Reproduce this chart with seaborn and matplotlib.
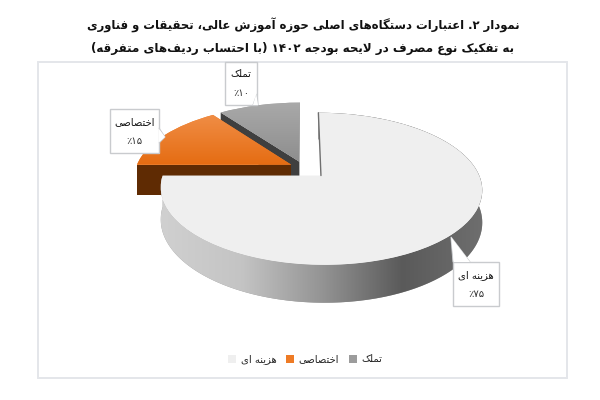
import numpy as np
import matplotlib
matplotlib.use('Agg')
import matplotlib.pyplot as plt
import seaborn as sns
from matplotlib.patches import PathPatch, Patch, Rectangle
from matplotlib.path import Path

title_lines = ['نمودار ۲. اعتبارات دستگاه\u200cهای اصلی حوزه آموزش عالی، تحقیقات و فناوری',
               'به تفکیک نوع مصرف در لایحه بودجه ۱۴۰۲ (با احتساب ردیف\u200cهای متفرقه)']
categories = ['هزینه ای', 'اختصاصی', 'تملک']
values = [75, 15, 10]

# (isolated, final, initial, medial) presentation forms, matplotlib does no shaping
FORMS = {'ا': 'ﺍﺎ', 'آ': 'ﺁﺂ', 'د': 'ﺩﺪ', 'ذ': 'ﺫﺬ', 'ر': 'ﺭﺮ', 'ز': 'ﺯﺰ', 'و': 'ﻭﻮ',
         'ب': 'ﺏﺐﺑﺒ', 'پ': 'ﭖﭗﭘﭙ', 'ت': 'ﺕﺖﺗﺘ', 'ج': 'ﺝﺞﺟﺠ', 'چ': 'ﭺﭻﭼﭽ', 'ح': 'ﺡﺢﺣﺤ',
         'خ': 'ﺥﺦﺧﺨ', 'س': 'ﺱﺲﺳﺴ', 'ش': 'ﺵﺶﺷﺸ', 'ص': 'ﺹﺺﺻﺼ', 'ع': 'ﻉﻊﻋﻌ', 'ف': 'ﻑﻒﻓﻔ',
         'ق': 'ﻕﻖﻗﻘ', 'ک': 'ﮎﮏﮐﮑ', 'گ': 'ﮒﮓﮔﮕ', 'ل': 'ﻝﻞﻟﻠ', 'م': 'ﻡﻢﻣﻤ', 'ن': 'ﻥﻦﻧﻨ',
         'ه': 'ﻩﻪﻫﻬ', 'ی': 'ﯼﯽﯾﯿ'}
PAIRS = {'(': ')', ')': '('}


def shape(text):
    text = text.replace('لا', '\ufefb')
    out = []
    for i, ch in enumerate(text):
        if ch == '\ufefb':
            prev = text[i - 1] if i else ''
            out.append('\ufefc' if len(FORMS.get(prev, '')) == 4 else ch)
            continue
        if ch not in FORMS:
            out.append(ch)
            continue
        prev = text[i - 1] if i else ''
        nxt = text[i + 1] if i + 1 < len(text) else ''
        before = len(FORMS.get(prev, '')) == 4
        after = len(FORMS[ch]) == 4 and (nxt in FORMS or nxt == '\ufefb')
        idx = {(0, 0): 0, (1, 0): 1, (0, 1): 2, (1, 1): 3}[(int(before), int(after))]
        out.append(FORMS[ch][idx])
    # visual order: everything reversed except runs of digits
    res, i = [], 0
    for ch in out:
        if ch == '\u200c':
            continue
        if ch in '۰۱۲۳۴۵۶۷۸۹' and i and res[0][-1] in '۰۱۲۳۴۵۶۷۸۹':
            res[0] += ch
        else:
            res.insert(0, PAIRS.get(ch, ch))
        i += 1
    return ''.join(res)


def percent(v):
    return shape(str(v).translate(str.maketrans('0123456789', '۰۱۲۳۴۵۶۷۸۹')) + '٪')


sns.set_theme(style='white')
plt.rcParams['font.family'] = ['DejaVu Sans']

top_colors = ['#EFEFEF', '#EE7B25', '#9C9C9C']
wall_colors = [None, '#5F2B03', '#3F3F3F']
face_grads = [None, ['#F08D45', '#E56C12'], ['#A9A9A9', '#8E8E8E']]
side_grad = sns.blend_palette(['#D0D0D0', '#C4C4C4', '#949494', '#5A5A5A', '#6E6E6E'], as_cmap=True)

# projection of the pie disk to the picture (tilted with some perspective)
X0, Y0, A, B, K, DEPTH = 303.6, 167.6, 155.3, 71.0, 0.171, 30.7


def project(x, y, drop=0.0):
    s = 1 / (1 + K * y)
    return np.column_stack([X0 + A * x * s, Y0 - B * y * s + drop * s])


fig = plt.figure(figsize=(6, 4), dpi=100)
ax = fig.add_axes([0, 0, 1, 1])
wedges, _ = ax.pie(values, explode=[0.155, 0.09, 0.089], startangle=90, counterclock=False, radius=1)
disks = []
for w in wedges:
    disks.append((w.get_path(), w.center, w.theta1, w.theta2))
    w.remove()
ax.set_aspect('auto')
ax.set_xlim(0, 600)
ax.set_ylim(400, 0)
ax.axis('off')

ax.add_patch(Rectangle((38, 62), 529, 316, fc='white', ec='#E4E6EA', lw=1.4, zorder=0))


def rim(center, radius, theta):
    t = np.radians(theta)
    return center[0] + radius * np.cos(t), center[1] + radius * np.sin(t)


def draw_wall(i, theta, zorder):
    _, c, _, _ = disks[i]
    x, y = rim(c, 1, theta)
    xs, ys = np.array([c[0], x]), np.array([c[1], y])
    a = project(xs, ys)
    b = project(xs, ys, DEPTH)
    ax.fill(np.r_[a[:, 0], b[::-1, 0]], np.r_[a[:, 1], b[::-1, 1]], color=wall_colors[i], lw=0, zorder=zorder)


def draw_face(i, zorder):
    path, _, _, _ = disks[i]
    pts = project(path.vertices[:, 0], path.vertices[:, 1])
    patch = PathPatch(Path(pts, path.codes), fc=top_colors[i], lw=0, zorder=zorder)
    ax.add_patch(patch)
    if face_grads[i]:
        cmap = sns.blend_palette(face_grads[i], as_cmap=True)
        ext = (pts[:, 0].min(), pts[:, 0].max(), pts[:, 1].max(), pts[:, 1].min())
        im = ax.imshow(np.linspace(0, 1, 64)[:, None], cmap=cmap, extent=ext, aspect='auto', zorder=zorder + 0.1)
        im.set_clip_path(patch)


# grey slice at the back, orange over it, big slice in front
draw_wall(2, disks[2][3], 1)
draw_face(2, 2)
draw_wall(1, disks[1][3], 3)
draw_face(1, 4)

_, c, t1, t2 = disks[0]
theta = np.linspace(t1, t2, 300)
rx, ry = rim(c, 1, theta)
upper = project(rx, ry)
lower = project(rx, ry, DEPTH)
side = PathPatch(Path(np.r_[upper, lower[::-1], upper[:1]]), fc='#999999', lw=0, zorder=5)
ax.add_patch(side)
im = ax.imshow(np.linspace(0, 1, 256)[None, :], cmap=side_grad, aspect='auto', zorder=5.1,
               extent=(upper[:, 0].min(), upper[:, 0].max(), 320, 100))
im.set_clip_path(side)
draw_face(0, 6)
edge = project(np.array([c[0], c[0]]), np.array([c[1], c[1] + 1]))
ax.plot(edge[:, 0], edge[:, 1], color='#6F6F6F', lw=1.0, zorder=6.5)
ax.set_xlim(0, 600)
ax.set_ylim(400, 0)

# callouts: box corners and pointer, same order as categories
boxes = [(453, 262, 499, 306), (110, 109, 159, 153), (225, 62, 257, 105)]
pointers = [[(470, 262), (451, 237), (453, 262)],
            [(159, 128), (165, 137), (159, 143)],
            [(257, 94), (258, 105), (253, 105)]]
for name, v, (x0, y0, x1, y1), tip in zip(categories, values, boxes, pointers):
    ax.add_patch(Rectangle((x0, y0), x1 - x0, y1 - y0, fc='white', ec='#C9CBCE', lw=1.0, zorder=7))
    ax.fill(*zip(*tip), fc='white', ec='#C9CBCE', lw=0.8, zorder=7.1)
    ax.fill(*zip(*[(p[0] + (0.8 if p[0] == x0 else -0.8 if p[0] == x1 else 0), p[1]) for p in tip]),
            fc='white', lw=0, zorder=7.2)
    cx = (x0 + x1) / 2
    ax.text(cx, y0 + (y1 - y0) * 0.29, shape(name), ha='center', va='center', fontsize=7.2, color='#111111', zorder=8)
    ax.text(cx, y0 + (y1 - y0) * 0.72, percent(v), ha='center', va='center', fontsize=7.2, color='#333333', zorder=8)

for line, y, size in zip(title_lines, [25, 48], [8.35, 8.6]):
    ax.text(303, y, shape(line), ha='center', va='center', fontsize=size, fontweight='bold', color='#111111')

handles = [Patch(fc=col, ec='none') for col in top_colors]
ax.legend(handles, [shape(n) for n in categories], ncol=3, loc='center', bbox_to_anchor=(0.509, 0.1025),
          frameon=False, fontsize=7.2, handlelength=0.75, handleheight=0.85, handletextpad=0.5,
          columnspacing=1.0, labelcolor='#222222')

fig.savefig('out.png', dpi=100)
